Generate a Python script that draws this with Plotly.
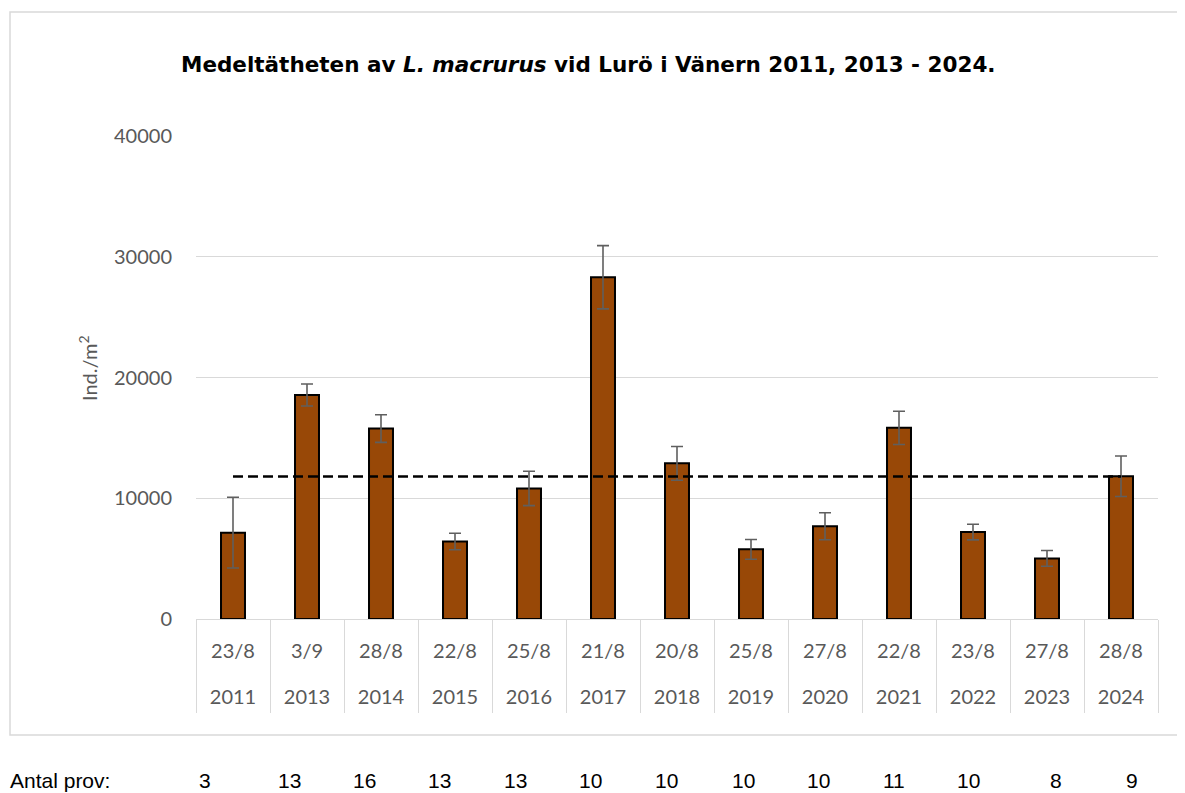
import plotly.graph_objects as go

# ---- data ----
years = ["2011", "2013", "2014", "2015", "2016", "2017", "2018",
         "2019", "2020", "2021", "2022", "2023", "2024"]
dates = ["23/8", "3/9", "28/8", "22/8", "25/8", "21/8", "20/8",
         "25/8", "27/8", "22/8", "23/8", "27/8", "28/8"]
density = [7150, 18550, 15770, 6420, 10810, 28300, 12890,
           5770, 7680, 15830, 7200, 5020, 11820]
std_err = [2930, 910, 1140, 680, 1420, 2620, 1400,
           820, 1120, 1380, 650, 650, 1680]
mean_density = 11800
antal_prov = [3, 13, 16, 13, 13, 10, 10, 10, 10, 11, 10, 8, 9]

# ---- layout constants (screen pixels; the page body adds an 8px margin) ----
OFF = 8
W, H = 1185 - OFF, 793 - OFF
PLOT_L, PLOT_R, PLOT_T, PLOT_B = 196, 1158, 136, 619   # screen coords
L, R = PLOT_L - OFF, W - (PLOT_R - OFF)
T, B = PLOT_T - OFF, H - (PLOT_B - OFF)
PW, PH = W - L - R, H - T - B


def px_x(x):
    return (x - OFF - L) / PW


def px_y(y):
    return (H - B - (y - OFF)) / PH


antal_x_px = [205, 289, 364, 439, 515, 590, 666, 743, 818, 894, 968, 1056, 1132]

grey = "#595959"
grid = "#d9d9d9"
font_main = "Lato"

fig = go.Figure()

fig.add_trace(go.Bar(
    x=years, y=density,
    marker=dict(color="#984807", line=dict(color="black", width=2)),
    error_y=dict(type="data", array=std_err, visible=True,
                 color="#5f5f5f", thickness=1.6, width=6),
    showlegend=False, hoverinfo="x+y",
))

fig.add_trace(go.Scatter(
    x=[years[0], years[-1]], y=[mean_density, mean_density],
    mode="lines", line=dict(color="black", width=2.5, dash="10px,5px"),
    showlegend=False, hoverinfo="skip",
))

# helper traces for overlay axes
fig.add_trace(go.Scatter(x=years, y=density, xaxis="x2", mode="none",
                         showlegend=False, hoverinfo="skip"))
fig.add_trace(go.Scatter(x=years, y=density, xaxis="x3", mode="none",
                         showlegend=False, hoverinfo="skip"))

xr = [-0.5, len(years) - 0.5]
common_x = dict(type="category", categoryorder="array", categoryarray=years,
                range=xr, fixedrange=True, showgrid=False, zeroline=False)

fig.update_layout(
    width=W, height=H,
    margin=dict(l=L, r=R, t=T, b=B, autoexpand=False),
    paper_bgcolor="white", plot_bgcolor="white",
    bargap=0.676,
    xaxis=dict(**common_x, tickmode="array", tickvals=years, ticktext=dates,
               ticks="", showline=True, linecolor=grid, linewidth=1,
               tickfont=dict(family=font_main, size=20, color=grey),
               ticklabelstandoff=14),
    xaxis2=dict(**common_x, overlaying="x", anchor="y", side="bottom",
                tickmode="array", tickvals=years, ticktext=years,
                ticks="", showline=False,
                tickfont=dict(family=font_main, size=20, color=grey),
                ticklabelstandoff=64),
    xaxis3=dict(**common_x, overlaying="x", anchor="y", side="bottom",
                tickson="boundaries", ticks="outside", ticklen=93,
                tickcolor=grid, tickwidth=1, showticklabels=False,
                showline=False),
    yaxis=dict(range=[0, 40000], dtick=10000, tickformat="d", showgrid=True,
               gridcolor=grid, gridwidth=1, zeroline=False,
               ticks="outside", ticklen=19, tickcolor="rgba(0,0,0,0)",
               tickfont=dict(family=font_main, size=20, color=grey),
               fixedrange=True),
)

# y-axis title
fig.add_annotation(
    xref="paper", yref="paper", x=px_x(88), y=px_y(368),
    xanchor="center", yanchor="middle", showarrow=False, textangle=-90,
    text="Ind./m<sup>2</sup>", font=dict(family=font_main, size=20, color=grey),
)

# outer chart frame
fig.add_shape(type="rect", xref="paper", yref="paper",
              x0=px_x(10), x1=px_x(1200), y0=px_y(735), y1=px_y(12),
              line=dict(color=grid, width=1.5), layer="below")

# title
fig.add_annotation(
    xref="paper", yref="paper", x=px_x(588), y=px_y(65),
    xanchor="center", yanchor="middle", showarrow=False,
    text="<b>Medeltätheten av <i>L. macrurus</i> vid Lurö i Vänern 2011, 2013 - 2024.</b>",
    font=dict(family="DejaVu Sans", size=21.5, color="black"),
)

# sample counts row
fig.add_annotation(
    xref="paper", yref="paper", x=px_x(OFF), y=px_y(780),
    xanchor="left", yanchor="middle", showarrow=False,
    text="Antal prov:", font=dict(family="Liberation Sans", size=21, color="black"),
)
for n, xp in zip(antal_prov, antal_x_px):
    fig.add_annotation(
        xref="paper", yref="paper", x=px_x(xp), y=px_y(780),
        xanchor="center", yanchor="middle", showarrow=False,
        text=str(n), font=dict(family="Liberation Sans", size=21, color="black"),
    )

fig.write_html("out.html")
